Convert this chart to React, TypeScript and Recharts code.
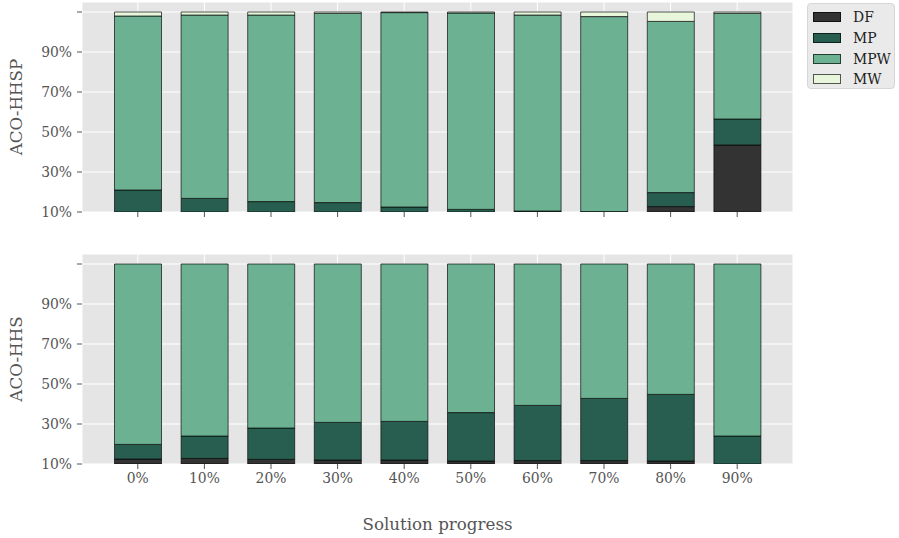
import React from 'react';
import { BarChart, Bar, XAxis, YAxis, CartesianGrid, Label } from 'recharts';

const categories = ['0%', '10%', '20%', '30%', '40%', '50%', '60%', '70%', '80%', '90%'];
const yTicks = [0, 0.2, 0.4, 0.6, 0.8, 1.0];
const yTickLabels = ['10%', '30%', '50%', '70%', '90%', ''];
const seriesNames = ['DF', 'MP', 'MPW', 'MW'];
const seriesColors = ['#333333', '#285e4f', '#6bb192', '#e8f6dc'];

// ACO-HHSP (top panel)
const hhspDF = [0, 0, 0, 0, 0, 0, 0, 0, 0.027, 0.335];
const hhspMP = [0.11, 0.068, 0.052, 0.047, 0.025, 0.013, 0.005, 0.002, 0.07, 0.13];
const hhspMPW = [0.87, 0.917, 0.933, 0.946, 0.972, 0.982, 0.98, 0.975, 0.856, 0.528];
const hhspMW = [0.02, 0.015, 0.015, 0.007, 0.003, 0.005, 0.015, 0.023, 0.047, 0.007];

// ACO-HHS (bottom panel)
const hhsDF = [0.025, 0.028, 0.023, 0.02, 0.02, 0.015, 0.017, 0.017, 0.015, 0];
const hhsMP = [0.073, 0.112, 0.157, 0.188, 0.193, 0.242, 0.276, 0.311, 0.333, 0.14];
const hhsMPW = [0.902, 0.86, 0.82, 0.792, 0.787, 0.743, 0.707, 0.672, 0.652, 0.86];
const hhsMW = [0, 0, 0, 0, 0, 0, 0, 0, 0, 0];

const buildRows = (df: number[], mp: number[], mpw: number[], mw: number[]) =>
  categories.map((c, i) => ({ cat: c, DF: df[i], MP: mp[i], MPW: mpw[i], MW: mw[i] }));

const hhspRows = buildRows(hhspDF, hhspMP, hhspMPW, hhspMW);
const hhsRows = buildRows(hhsDF, hhsMP, hhsMPW, hhsMW);

const FONT = '"DejaVu Serif", serif';
const TXT = '#555555';

type PanelProps = {
  data: any[];
  yLabel: string;
  height: number;
  xAxisHeight: number;
  showXLabels: boolean;
  xLabel?: string;
};

const Panel = ({ data, yLabel, height, xAxisHeight, showXLabels, xLabel }: PanelProps) => (
  <BarChart
    width={899}
    height={height}
    data={data}
    margin={{ top: 2, right: 106, left: 0, bottom: 0 }}
    barSize={47}
  >
    <CartesianGrid fill="#E5E5E5" stroke="#ffffff" strokeWidth={1} />
    <XAxis
      dataKey="cat"
      type="category"
      interval={0}
      height={xAxisHeight}
      padding={{ left: 22.5, right: 22.5 }}
      axisLine={false}
      tickSize={5}
      tickMargin={4}
      tickLine={{ stroke: TXT }}
      tick={{ fill: TXT, fontSize: 13.9, fontFamily: FONT }}
      tickFormatter={(v: string) => (showXLabels ? v : '')}
    >
      {xLabel ? (
        <Label
          content={(props: any) => {
            const vb = props.viewBox || { x: 82, y: 212, width: 711 };
            return (
              <text
                x={vb.x + vb.width / 2}
                y={vb.y + 60}
                textAnchor="middle"
                dominantBaseline="central"
                fill={TXT}
                fontSize={16.7}
                fontFamily={FONT}
              >
                {xLabel}
              </text>
            );
          }}
        />
      ) : null}
    </XAxis>
    <YAxis
      type="number"
      width={82}
      domain={[0, 1.05]}
      ticks={yTicks}
      allowDataOverflow
      axisLine={false}
      tickSize={5}
      tickMargin={5}
      tickLine={{ stroke: TXT }}
      tick={{ fill: TXT, fontSize: 13.9, fontFamily: FONT }}
      tickFormatter={(v: number) => yTickLabels[yTicks.indexOf(v)] ?? ''}
    >
      <Label
        content={(props: any) => {
          const vb = props.viewBox || { x: 0, y: 2, height: 210 };
          const cx = vb.x + 16;
          const cy = vb.y + vb.height / 2;
          return (
            <text
              x={cx}
              y={cy}
              transform={`rotate(-90, ${cx}, ${cy})`}
              textAnchor="middle"
              dominantBaseline="central"
              fill={TXT}
              fontSize={16.7}
              fontFamily={FONT}
            >
              {yLabel}
            </text>
          );
        }}
      />
    </YAxis>
    {seriesNames.map((name, i) => (
      <Bar
        key={name}
        dataKey={name}
        stackId="s"
        fill={seriesColors[i]}
        stroke="#000000"
        strokeOpacity={0.65}
        strokeWidth={1}
        isAnimationActive={false}
      />
    ))}
  </BarChart>
);

const LegendBox = () => (
  <div
    style={{
      position: 'absolute',
      left: 807,
      top: 3,
      width: 88,
      height: 86,
      background: '#EAEAEA',
      border: '1px solid #d6d6d6',
      borderRadius: 4,
      boxSizing: 'border-box',
    }}
  >
    {seriesNames.map((name, i) => (
      <div
        key={name}
        style={{
          position: 'absolute',
          left: 5,
          top: 6 + i * 20.8,
          height: 14,
          display: 'flex',
          alignItems: 'center',
        }}
      >
        <div
          style={{
            width: 28,
            height: 10,
            background: seriesColors[i],
            border: '1px solid rgba(0,0,0,0.65)',
            boxSizing: 'border-box',
          }}
        />
        <span
          style={{
            marginLeft: 12,
            fontFamily: FONT,
            fontSize: 13.9,
            color: '#222222',
            lineHeight: '14px',
          }}
        >
          {name}
        </span>
      </div>
    ))}
  </div>
);

export default function App() {
  return (
    <div style={{ position: 'absolute', left: 0, top: 0, width: 899, height: 538, background: '#ffffff' }}>
      <div style={{ position: 'absolute', left: 0, top: 0 }}>
        <Panel data={hhspRows} yLabel="ACO-HHSP" height={222} xAxisHeight={10} showXLabels={false} />
      </div>
      <div style={{ position: 'absolute', left: 0, top: 252 }}>
        <Panel
          data={hhsRows}
          yLabel="ACO-HHS"
          height={286}
          xAxisHeight={74}
          showXLabels={true}
          xLabel="Solution progress"
        />
      </div>
      <LegendBox />
    </div>
  );
}
